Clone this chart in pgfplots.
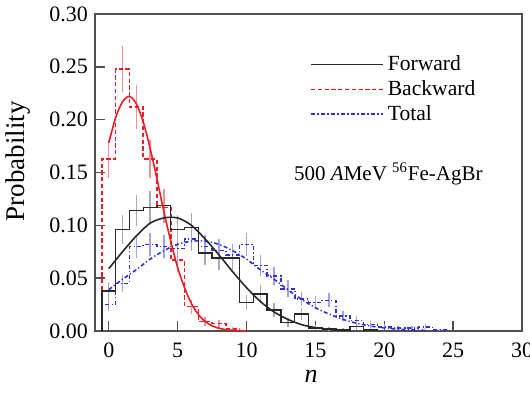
\documentclass[border=0pt]{standalone}
\usepackage{pgfplots}
\pgfplotsset{compat=1.18}
\usepackage{fontspec}
\setmainfont{Liberation Serif}
\definecolor{fwd}{RGB}{40,40,40}
\definecolor{bwd}{RGB}{238,28,36}
\definecolor{tot}{RGB}{45,45,225}
\definecolor{fwderr}{RGB}{170,170,170}
\definecolor{bwderr}{RGB}{242,145,145}
\definecolor{toterr}{RGB}{160,160,240}
\definecolor{axc}{RGB}{80,80,80}
\begin{document}
\begin{tikzpicture}
\begin{axis}[
  scale only axis, width=213.5pt, height=158.5pt,
  xmin=-1, xmax=30, ymin=0, ymax=0.30,
  xtick={0,5,...,30}, ytick={0,0.05,0.10,0.15,0.20,0.25,0.30},
  xtick pos=bottom, ytick pos=left, tick align=inside,
  major tick length=5pt,
  axis line style={axc, line width=0.7pt},
  every tick/.style={axc, line width=0.7pt},
  /pgf/number format/assume math mode=true,
  yticklabel style={/pgf/number format/.cd, fixed, fixed zerofill, precision=2},
  xticklabel style={yshift=-2.5pt},
  ticklabel style={font=\fontsize{11}{13}\selectfont},
  scaled y ticks=false,
  every axis x label/.style={at={(axis description cs:0.506,0)}, anchor=center, yshift=-22.5pt},
  every axis y label/.style={at={(axis description cs:-0.18,0.536)}, rotate=90, anchor=center},
  xlabel={\fontsize{13}{15}\selectfont\textit{n}},
  ylabel={\fontsize{13.5}{15}\selectfont Probability},
  legend style={at={(axis description cs:0.489,0.895)}, anchor=north west, draw=none, fill=none,
    font=\fontsize{10.8}{12.5}\selectfont, row sep=-0.6pt},
  legend cell align=left,
  legend image code/.code={\draw[#1] (0pt,0pt) -- (33.5pt,0pt); \path (0pt,0pt) -- (36pt,0pt);},
  clip=false,
]
% error bars
\addplot[draw=none, mark=none, forget plot, error bars/.cd, y dir=both, y explicit, error mark=none,
  error bar style={draw=fwderr, solid, line width=0.7pt}] coordinates {
(0,0.038) +- (0,0.0086) (1,0.096) +- (0,0.0137) (2,0.114) +- (0,0.015) (3,0.117) +- (0,0.0151)
(4,0.119) +- (0,0.0153) (5,0.096) +- (0,0.0137) (6,0.098) +- (0,0.0139) (7,0.074) +- (0,0.012)
(8,0.069) +- (0,0.0116) (9,0.069) +- (0,0.0116) (10,0.027) +- (0,0.0073) (11,0.035) +- (0,0.0083)
(12,0.020) +- (0,0.0063) (13,0.008) +- (0,0.004) (14,0.016) +- (0,0.0056) (15,0.003) +- (0,0.0024)
(16,0.002) +- (0,0.002) (17,0.001) +- (0,0.0014) (18,0.004) +- (0,0.0028) (19,0.001) +- (0,0.0014)
};
\addplot[draw=none, mark=none, forget plot, error bars/.cd, y dir=both, y explicit, error mark=none,
  error bar style={draw=bwderr, solid, line width=0.7pt}] coordinates {
(0,0.163) +- (0,0.0179) (1,0.248) +- (0,0.022) (2,0.212) +- (0,0.0204) (3,0.163) +- (0,0.0179)
(4,0.117) +- (0,0.0151) (5,0.067) +- (0,0.0115) (6,0.023) +- (0,0.0067) (7,0.009) +- (0,0.0042)
(8,0.007) +- (0,0.0037) (9,0.002) +- (0,0.002)
};
\addplot[draw=none, mark=none, forget plot, error bars/.cd, y dir=both, y explicit, error mark=none,
  error bar style={draw=toterr, solid, line width=0.7pt}] coordinates {
(0,0.025) +- (0,0.0062) (1,0.045) +- (0,0.0083) (2,0.080) +- (0,0.0111) (3,0.082) +- (0,0.0112)
(4,0.080) +- (0,0.0111) (5,0.078) +- (0,0.011) (6,0.087) +- (0,0.0116) (7,0.080) +- (0,0.0111)
(8,0.076) +- (0,0.0108) (9,0.072) +- (0,0.0105) (10,0.082) +- (0,0.0112) (11,0.062) +- (0,0.0098)
(12,0.052) +- (0,0.0089) (13,0.040) +- (0,0.0078) (14,0.030) +- (0,0.0068) (15,0.027) +- (0,0.0064)
(16,0.029) +- (0,0.0067) (17,0.014) +- (0,0.0046) (18,0.010) +- (0,0.0039) (19,0.006) +- (0,0.003)
(20,0.004) +- (0,0.0025) (21,0.003) +- (0,0.0021) (22,0.003) +- (0,0.0021) (23,0.004) +- (0,0.0025)
(24,0.001) +- (0,0.0012)
};
% histograms
\addplot[const plot, forget plot, color=tot, line width=0.8pt, dash pattern=on 2pt off 1.2pt on 0.6pt off 1.2pt] coordinates {
(-0.5,0) (-0.5,0.025) (0.5,0.045) (1.5,0.080) (2.5,0.082) (3.5,0.080) (4.5,0.078) (5.5,0.087)
(6.5,0.080) (7.5,0.076) (8.5,0.072) (9.5,0.082) (10.5,0.062) (11.5,0.052) (12.5,0.040) (13.5,0.030)
(14.5,0.027) (15.5,0.029) (16.5,0.014) (17.5,0.010) (18.5,0.006) (19.5,0.004) (20.5,0.003)
(21.5,0.003) (22.5,0.004) (23.5,0.001) (24.5,0.001) (24.5,0)
};
\addplot[const plot, forget plot, color=bwd, line width=0.8pt, dash pattern=on 2.1pt off 1.3pt] coordinates {
(-0.5,0) (-0.5,0.163) (0.5,0.248) (1.5,0.212) (2.5,0.163) (3.5,0.117) (4.5,0.067) (5.5,0.023)
(6.5,0.009) (7.5,0.007) (8.5,0.002) (9.5,0.002) (9.5,0)
};
\addplot[const plot, forget plot, color=fwd, line width=0.7pt] coordinates {
(-0.5,0) (-0.5,0.038) (0.5,0.096) (1.5,0.114) (2.5,0.117) (3.5,0.119) (4.5,0.096) (5.5,0.098)
(6.5,0.074) (7.5,0.069) (8.5,0.069) (9.5,0.027) (10.5,0.035) (11.5,0.020) (12.5,0.008) (13.5,0.016)
(14.5,0.003) (15.5,0.002) (16.5,0.001) (17.5,0.004) (18.5,0.001) (19.5,0.001) (19.5,0)
};
% fitted curves
\addplot[smooth, forget plot, color=tot, line width=0.8pt, dash pattern=on 2pt off 1.2pt on 0.6pt off 1.2pt] coordinates {
(0,0.039) (1,0.049) (2,0.058) (3,0.068) (4,0.076) (5,0.082) (6,0.085) (7,0.085) (8,0.082) (9,0.076)
(10,0.068) (11,0.058) (12,0.049) (13,0.039) (14,0.030) (15,0.022) (16,0.016) (17,0.011) (18,0.0073)
(19,0.0047) (20,0.0029) (21,0.0017) (22,0.0010) (23,0.0006)
};
\addplot[smooth, forget plot, color=bwd, line width=0.8pt] coordinates {
(0,0.178) (0.5,0.202) (1,0.217) (1.5,0.222) (2,0.215) (2.5,0.198) (3,0.173) (3.5,0.144) (4,0.113)
(4.5,0.085) (5,0.060) (5.5,0.041) (6,0.026) (6.5,0.0157) (7,0.0091) (7.5,0.0049) (8,0.0026)
(8.5,0.0013) (9,0.0006) (9.5,0.0003) (10,0.0001)
};
\addplot[smooth, forget plot, color=fwd, line width=0.8pt] coordinates {
(0,0.059) (1,0.075) (2,0.090) (3,0.102) (4,0.107) (5,0.107) (6,0.100) (7,0.087) (8,0.072) (9,0.056)
(10,0.041) (11,0.028) (12,0.018) (13,0.011) (14,0.006) (15,0.0032) (16,0.0016) (17,0.0008) (17.5,0.0005)
};
\addlegendimage{color=fwd, line width=0.7pt}
\addlegendentry{Forward}
\addlegendimage{color=red, line width=0.8pt, dash pattern=on 2.1pt off 1.3pt}
\addlegendentry{Backward}
\addlegendimage{color=tot, line width=0.8pt, dash pattern=on 2pt off 1.2pt on 0.6pt off 1.2pt}
\addlegendentry{Total}
\node[font=\fontsize{10.5}{12.5}\selectfont, anchor=center] at (axis cs:20.3,0.1485) {500 \textit{A}MeV \textsuperscript{56}Fe-AgBr};
\end{axis}
\pgfresetboundingbox
\path (-47.5pt,-32.5pt) rectangle (217.5pt,165.5pt);
\end{tikzpicture}
\end{document}
